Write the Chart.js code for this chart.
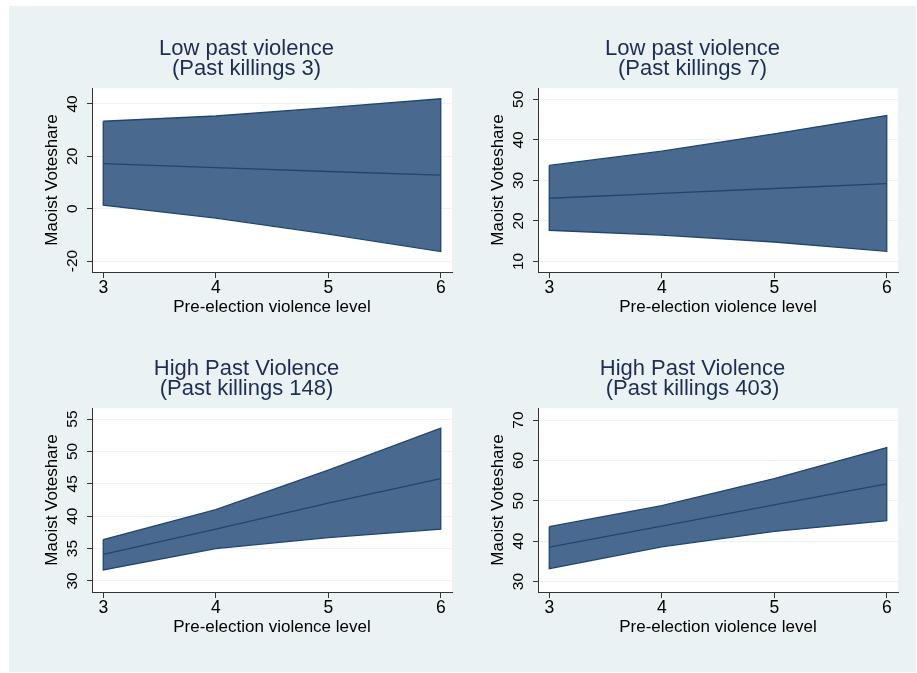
<!DOCTYPE html>
<html>
<head>
<meta charset="utf-8">
<script src="https://cdn.jsdelivr.net/npm/chart.js@4.4.1/dist/chart.umd.min.js"></script>
<style>
  body { margin: 0; background: #fff; width: 917px; height: 673px; position: relative; overflow: hidden; }
  #frame { position: absolute; left: 9px; top: 6px; width: 907px; height: 666px; background: #eaf2f3; }
  canvas { position: absolute; }
</style>
</head>
<body>
<div id="frame"></div>
<canvas id="c3" width="440" height="310" style="left:20px;top:20px"></canvas>
<canvas id="c7" width="440" height="310" style="left:466px;top:20px"></canvas>
<canvas id="c148" width="440" height="310" style="left:20px;top:340px"></canvas>
<canvas id="c403" width="440" height="310" style="left:466px;top:340px"></canvas>
<script>
// pre-election violence level (x)
const violenceLevels = [3, 4, 5, 6];
const xTicks = [3, 4, 5, 6];

// Past killings 3
const k3Upper = [33.4, 35.4, 38.6, 42.0];
const k3Fit = [17.2, 15.7, 14.2, 12.8];
const k3Lower = [1.3, -3.6, -9.7, -16.4];
const k3Ticks = [-20, 0, 20, 40];

// Past killings 7
const k7Upper = [33.7, 37.2, 41.5, 46.0];
const k7Fit = [25.6, 26.8, 28.0, 29.2];
const k7Lower = [17.7, 16.5, 14.8, 12.5];
const k7Ticks = [10, 20, 30, 40, 50];

// Past killings 148
const k148Upper = [36.4, 41.0, 47.1, 53.6];
const k148Fit = [34.1, 38.0, 42.0, 45.8];
const k148Lower = [31.7, 35.0, 36.7, 38.0];
const k148Ticks = [30, 35, 40, 45, 50, 55];

// Past killings 403
const k403Upper = [43.6, 48.8, 55.5, 63.2];
const k403Fit = [38.5, 43.7, 49.0, 54.2];
const k403Lower = [33.2, 38.6, 42.4, 45.1];
const k403Ticks = [30, 40, 50, 60, 70];

const FONT = "'Liberation Sans', Arial, sans-serif";
const FILL = '#496a8e';
const EDGE = '#1f4670';
const AXIS = '#333333';

// white plot region + rotated y tick labels
const plotBits = {
    id: 'plotBits',
    beforeDraw(chart) {
        const a = chart.chartArea;
        const ctx = chart.ctx;
        ctx.save();
        ctx.fillStyle = '#ffffff';
        ctx.fillRect(a.left, a.top, a.right - a.left, a.bottom - a.top);
        ctx.restore();
    },
    afterDraw(chart) {
        const scale = chart.scales.y;
        const ctx = chart.ctx;
        ctx.save();
        ctx.font = '15.5px ' + FONT;
        ctx.fillStyle = '#000';
        ctx.textAlign = 'center';
        ctx.textBaseline = 'alphabetic';
        scale.ticks.forEach(t => {
            const y = scale.getPixelForValue(t.value);
            ctx.save();
            ctx.translate(chart.chartArea.left - 15, y);
            ctx.rotate(-Math.PI / 2);
            ctx.fillText(String(t.value), 0, 0);
            ctx.restore();
        });
        ctx.restore();
    }
};

function makePanel(id, title, upper, fit, lower, yTicks, yMin, yMax) {
    // band outline: upper limits left to right, then lower limits back
    const band = violenceLevels.map((x, i) => ({ x: x, y: upper[i] }))
        .concat(violenceLevels.map((x, i) => ({ x: x, y: lower[i] })).reverse());
    band.push(band[0]);
    const fitLine = violenceLevels.map((x, i) => ({ x: x, y: fit[i] }));

    return new Chart(document.getElementById(id), {
        type: 'line',
        data: {
            datasets: [{
                data: fitLine,
                borderColor: EDGE,
                borderWidth: 1.3,
                pointRadius: 0,
                fill: false,
                order: 0
            }, {
                data: band,
                borderColor: EDGE,
                borderWidth: 1.3,
                backgroundColor: FILL,
                pointRadius: 0,
                fill: 'shape',
                order: 1
            }]
        },
        options: {
            responsive: false,
            animation: false,
            layout: { padding: { left: 21, right: 8, top: 0, bottom: 12.5 } },
            plugins: {
                legend: { display: false },
                tooltip: { enabled: false },
                title: {
                    display: true,
                    text: title,
                    color: '#1e2d53',
                    font: { family: FONT, size: 22, weight: 'normal', lineHeight: '20px' },
                    padding: { top: 19, bottom: 9 }
                }
            },
            scales: {
                x: {
                    type: 'linear',
                    min: 2.9,
                    max: 6.1,
                    afterBuildTicks: s => { s.ticks = xTicks.map(v => ({ value: v })); },
                    afterFit: s => { s.height = 45.5; },
                    grid: { drawOnChartArea: false, tickLength: 6, tickColor: AXIS },
                    border: { display: true, color: AXIS, width: 1 },
                    ticks: { color: '#000', padding: 0, font: { family: FONT, size: 17.5 } },
                    title: {
                        display: true,
                        text: 'Pre-election violence level',
                        color: '#000',
                        padding: 0,
                        font: { family: FONT, size: 17 }
                    }
                },
                y: {
                    min: yMin,
                    max: yMax,
                    afterBuildTicks: s => { s.ticks = yTicks.map(v => ({ value: v })); },
                    afterFit: s => { s.width = 51; },
                    grid: { color: '#eaf2f3', lineWidth: 1, tickLength: 5, tickColor: AXIS },
                    border: { display: true, color: AXIS, width: 1 },
                    ticks: { display: false },
                    title: {
                        display: true,
                        text: 'Maoist Voteshare',
                        color: '#000',
                        padding: { top: 1, bottom: 0 },
                        font: { family: FONT, size: 17 }
                    }
                }
            }
        },
        plugins: [plotBits]
    });
}

makePanel('c3', ['Low past violence', '(Past killings 3)'], k3Upper, k3Fit, k3Lower, k3Ticks, -24.2, 46.1);
makePanel('c7', ['Low past violence', '(Past killings 7)'], k7Upper, k7Fit, k7Lower, k7Ticks, 7.4, 52.8);
makePanel('c148', ['High Past Violence', '(Past killings 148)'], k148Upper, k148Fit, k148Lower, k148Ticks, 28.3, 56.7);
makePanel('c403', ['High Past Violence', '(Past killings 403)'], k403Upper, k403Fit, k403Lower, k403Ticks, 27.4, 73.0);
</script>
</body>
</html>
